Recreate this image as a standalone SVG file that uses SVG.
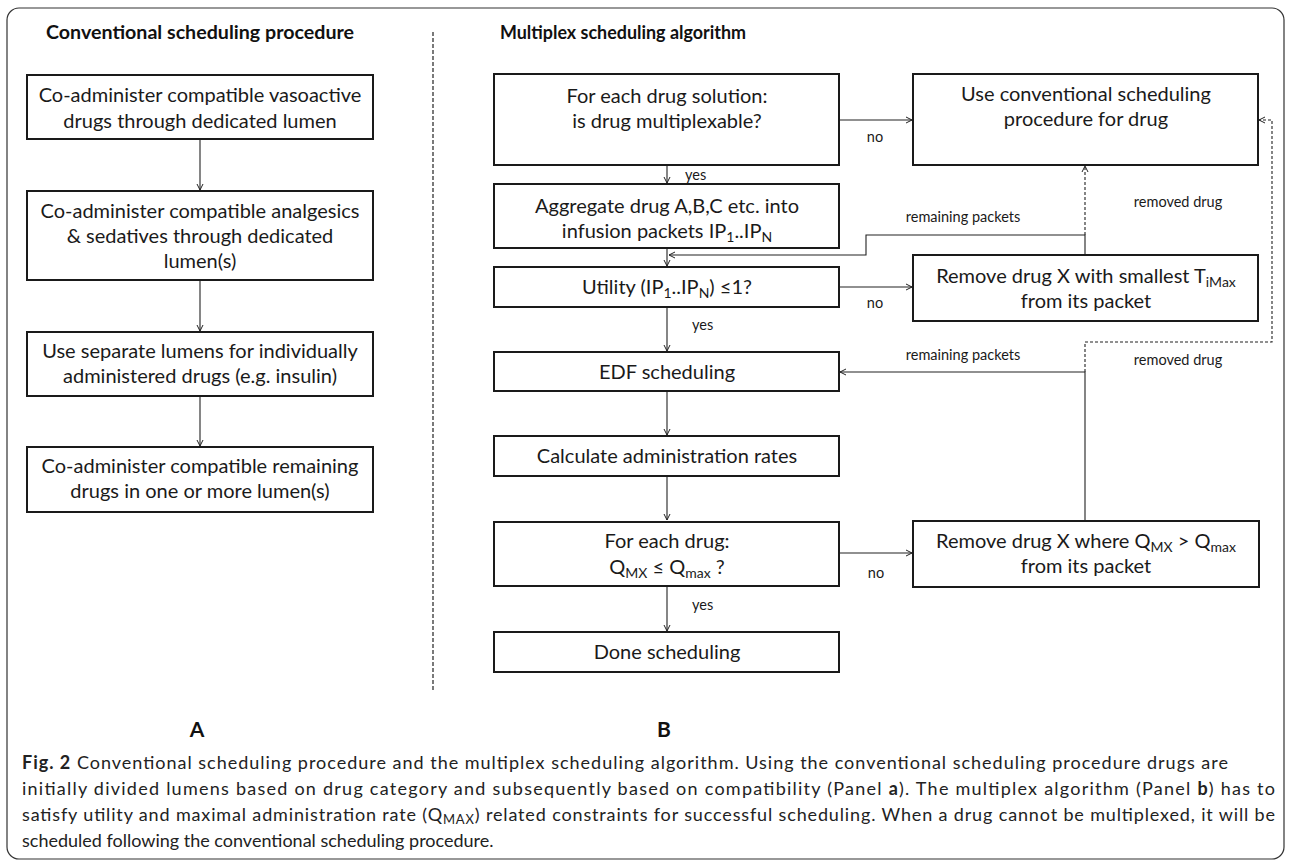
<svg xmlns="http://www.w3.org/2000/svg" width="1290" height="862" viewBox="0 0 1290 862">
<defs>
<marker id="ah" markerWidth="10" markerHeight="10" refX="7" refY="4" orient="auto" markerUnits="userSpaceOnUse">
<path d="M1,1 L7,4 L1,7" fill="none" stroke="#222" stroke-width="1"/>
</marker>
<style>
.box{fill:#fff;stroke:#1a1a1a;stroke-width:2}
.t{font-family:Lato,"Liberation Sans",sans-serif;font-size:20px;fill:#1a1a1a;text-anchor:middle}
.s{font-family:Lato,"Liberation Sans",sans-serif;font-size:14.5px;fill:#1a1a1a}
.h{font-family:Lato,"Liberation Sans",sans-serif;font-size:18.5px;font-weight:bold;fill:#111}
.c{font-family:Lato,"Liberation Sans",sans-serif;font-size:18px;fill:#222}
.ln{fill:none;stroke:#222;stroke-width:1.1}
.dl{fill:none;stroke:#222;stroke-width:1.1;stroke-dasharray:3,2}
</style>
</defs>
<rect x="7" y="8" width="1277" height="851" rx="12" fill="#fff" stroke="#333" stroke-width="1.2"/>
<line x1="433" y1="32" x2="433" y2="692" stroke="#333" stroke-width="1.3" stroke-dasharray="4,2"/>
<text class="h" x="46" y="39" textLength="308" lengthAdjust="spacingAndGlyphs">Conventional scheduling procedure</text>
<text class="h" x="500" y="39" textLength="246" lengthAdjust="spacingAndGlyphs">Multiplex scheduling algorithm</text>

<g id="connectors">
<path class="ln" d="M200,139 V190" marker-end="url(#ah)"/>
<path class="ln" d="M200,280 V331" marker-end="url(#ah)"/>
<path class="ln" d="M200,396 V446" marker-end="url(#ah)"/>
<path class="ln" d="M667,165 V183" marker-end="url(#ah)"/>
<path class="ln" d="M839,120 H912" marker-end="url(#ah)"/>
<path class="ln" d="M667,248 V266" marker-end="url(#ah)"/>
<path class="ln" d="M1085,255 V235 H866 V255 H669" marker-end="url(#ah)"/>
<path class="dl" d="M1085,235 V166" marker-end="url(#ah)"/>
<path class="ln" d="M839,287 H912" marker-end="url(#ah)"/>
<path class="ln" d="M667,307 V351" marker-end="url(#ah)"/>
<path class="ln" d="M667,391 V435" marker-end="url(#ah)"/>
<path class="ln" d="M667,476 V520" marker-end="url(#ah)"/>
<path class="ln" d="M667,586 V631" marker-end="url(#ah)"/>
<path class="ln" d="M839,553 H912" marker-end="url(#ah)"/>
<path class="ln" d="M1085,521 V372 H840" marker-end="url(#ah)"/>
<path class="dl" d="M1085,372 V342 H1272 V120 H1259" marker-end="url(#ah)"/>
<text class="s" x="685" y="180">yes</text>
<text class="s" x="875" y="142" text-anchor="middle">no</text>
<text class="s" x="963" y="222" text-anchor="middle">remaining packets</text>
<text class="s" x="1178" y="207" text-anchor="middle">removed drug</text>
<text class="s" x="875" y="308" text-anchor="middle">no</text>
<text class="s" x="692" y="330">yes</text>
<text class="s" x="963" y="360" text-anchor="middle">remaining packets</text>
<text class="s" x="1178" y="365" text-anchor="middle">removed drug</text>
<text class="s" x="876" y="578" text-anchor="middle">no</text>
<text class="s" x="692" y="610">yes</text>
</g>

<g id="a1"><rect class="box" x="27" y="75" width="346" height="64"/>
<text class="t" x="200" y="102">Co-administer compatible vasoactive</text>
<text class="t" x="200" y="128">drugs through dedicated lumen</text></g>
<g id="a2"><rect class="box" x="27" y="191" width="346" height="89"/>
<text class="t" x="200" y="218">Co-administer compatible analgesics</text>
<text class="t" x="200" y="243">&amp; sedatives through dedicated</text>
<text class="t" x="200" y="268">lumen(s)</text></g>
<g id="a3"><rect class="box" x="27" y="332" width="346" height="64"/>
<text class="t" x="200" y="358">Use separate lumens for individually</text>
<text class="t" x="200" y="383">administered drugs (e.g. insulin)</text></g>
<g id="a4"><rect class="box" x="27" y="447" width="346" height="65"/>
<text class="t" x="200" y="473">Co-administer compatible remaining</text>
<text class="t" x="200" y="498">drugs in one or more lumen(s)</text></g>

<g id="b1"><rect class="box" x="494" y="74" width="345" height="91"/>
<text class="t" x="667" y="103">For each drug solution:</text>
<text class="t" x="667" y="128">is drug multiplexable?</text></g>
<g id="b2"><rect class="box" x="494" y="184" width="345" height="64"/>
<text class="t" x="667" y="213">Aggregate drug A,B,C  etc. into</text>
<text class="t" x="667" y="238">infusion packets IP<tspan font-size="14" dy="4">1</tspan><tspan dy="-4">..IP</tspan><tspan font-size="14" dy="4">N</tspan></text></g>
<g id="b3"><rect class="box" x="494" y="267" width="345" height="40"/>
<text class="t" x="667" y="294">Utility (IP<tspan font-size="14" dy="4">1</tspan><tspan dy="-4">..IP</tspan><tspan font-size="14" dy="4">N</tspan><tspan dy="-4">) ≤1?</tspan></text></g>
<g id="b4"><rect class="box" x="494" y="352" width="345" height="39"/>
<text class="t" x="667" y="379">EDF scheduling</text></g>
<g id="b5"><rect class="box" x="494" y="436" width="345" height="40"/>
<text class="t" x="667" y="463">Calculate administration rates</text></g>
<g id="b6"><rect class="box" x="494" y="522" width="345" height="64"/>
<text class="t" x="667" y="548">For each drug:</text>
<text class="t" x="667" y="574">Q<tspan font-size="14" dy="4">MX</tspan><tspan dy="-4"> ≤ Q</tspan><tspan font-size="14" dy="4">max</tspan><tspan dy="-4"> ?</tspan></text></g>
<g id="b7"><rect class="box" x="494" y="632" width="345" height="40"/>
<text class="t" x="667" y="659">Done scheduling</text></g>

<g id="c1"><rect class="box" x="913" y="74" width="345" height="91"/>
<text class="t" x="1086" y="101">Use conventional scheduling</text>
<text class="t" x="1086" y="126">procedure for drug</text></g>
<g id="c2"><rect class="box" x="913" y="255" width="345" height="66"/>
<text class="t" x="1086" y="283">Remove drug X with smallest T<tspan font-size="14" dy="4">iMax</tspan></text>
<text class="t" x="1086" y="308">from its packet</text></g>
<g id="c3"><rect class="box" x="913" y="521" width="346" height="66"/>
<text class="t" x="1086" y="548">Remove drug X where Q<tspan font-size="14" dy="4">MX</tspan><tspan dy="-4"> &gt; Q</tspan><tspan font-size="14" dy="4">max</tspan></text>
<text class="t" x="1086" y="573">from its packet</text></g>

<text x="197" y="737" text-anchor="middle" font-family="Lato, 'Liberation Sans', sans-serif" font-size="21" font-weight="bold" fill="#111">A</text>
<text x="664" y="737" text-anchor="middle" font-family="Lato, 'Liberation Sans', sans-serif" font-size="21" font-weight="bold" fill="#111">B</text>

<text class="c" x="22" y="769" textLength="1206" lengthAdjust="spacing"><tspan font-weight="bold">Fig. 2</tspan> Conventional scheduling procedure and the multiplex scheduling algorithm. Using the conventional scheduling procedure drugs are</text>
<text class="c" x="22" y="795" textLength="1253" lengthAdjust="spacing">initially divided lumens based on drug category and subsequently based on compatibility (Panel <tspan font-weight="bold">a</tspan>). The multiplex algorithm (Panel <tspan font-weight="bold">b</tspan>) has to</text>
<text class="c" x="22" y="821" textLength="1253" lengthAdjust="spacing">satisfy utility and maximal administration rate (Q<tspan font-size="13" dy="3">MAX</tspan><tspan dy="-3">) related constraints for successful scheduling. When a drug cannot be multiplexed, it will be</tspan></text>
<text class="c" x="22" y="847">scheduled following the conventional scheduling procedure.</text>
</svg>
